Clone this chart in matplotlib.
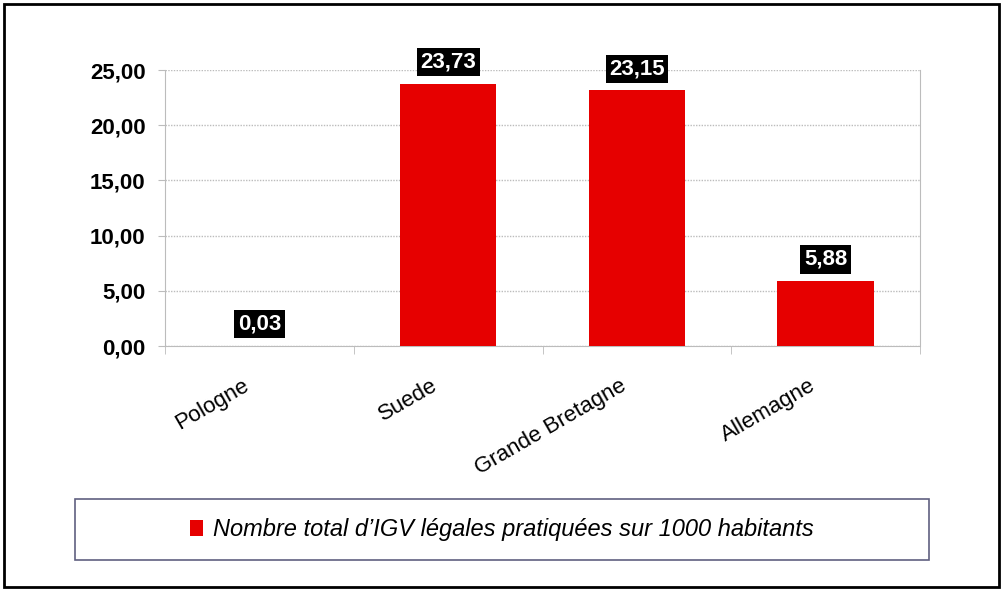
import matplotlib
matplotlib.use("Agg")
import matplotlib.pyplot as plt
import matplotlib.transforms as mtransforms
from matplotlib.patches import Rectangle, Patch
from matplotlib.ticker import FuncFormatter, FixedLocator

# donnees
pays = ["Pologne", "Suede", "Grande Bretagne", "Allemagne"]
valeurs = [0.03, 23.73, 23.15, 5.88]
legende = "Nombre total d\u2019IGV l\u00e9gales pratiqu\u00e9es sur 1000 habitants"
y_ticks = [0, 5, 10, 15, 20, 25]

rouge = "#e60000"
gris = "#bcbcbc"

plt.rcParams["font.family"] = ["Liberation Sans", "DejaVu Sans"]

def virgule(v, pos=None):
    return f"{v:.2f}".replace(".", ",")

fig = plt.figure(figsize=(10.02, 5.89), dpi=100)
ax = fig.add_axes([165 / 1002, 243 / 589, 755 / 1002, 276 / 589])

x = range(len(pays))
ax.bar(x, valeurs, width=0.51, color=rouge, edgecolor="none", zorder=3)

ax.set_xlim(-0.5, len(pays) - 0.5)
ax.set_ylim(0, 25)
ax.set_yticks(y_ticks)
ax.yaxis.set_major_formatter(FuncFormatter(virgule))
ax.grid(axis="y", color=gris, linewidth=1, linestyle=(0, (1, 1)), zorder=0)

for s in ["left", "right", "bottom"]:
    ax.spines[s].set_color(gris)
    ax.spines[s].set_linestyle((0, (1, 1)))
ax.spines["top"].set_visible(False)

ax.tick_params(axis="y", length=5, color=gris, pad=9, labelsize=16)
for lab in ax.get_yticklabels():
    lab.set_fontweight("bold")

# etiquettes des categories
ax.set_xticks(list(x))
ax.set_xticklabels(pays, rotation=30, ha="right", va="top", rotation_mode="anchor", fontsize=16)
ax.tick_params(axis="x", which="major", length=0, pad=21)
decal = mtransforms.ScaledTranslation(-0.17, 0, fig.dpi_scale_trans)
for lab in ax.get_xticklabels():
    lab.set_transform(lab.get_transform() + decal)
ax.xaxis.set_minor_locator(FixedLocator([i - 0.5 for i in range(len(pays) + 1)]))
ax.tick_params(axis="x", which="minor", length=6, color=gris)

# valeurs au-dessus des barres
for i, v in enumerate(valeurs):
    ax.annotate(virgule(v), (i, v), xytext=(0, 8), textcoords="offset points",
                ha="center", va="bottom", fontsize=16, fontweight="bold", color="white",
                bbox=dict(boxstyle="square,pad=0.16", facecolor="black", edgecolor="none"),
                zorder=4)

# cadre de la legende
fig.patches.append(Rectangle((75 / 1002, 29 / 589), 854 / 1002, 61 / 589,
                             transform=fig.transFigure, facecolor="none",
                             edgecolor="#606080", linewidth=1.2))
fig.legend(handles=[Patch(facecolor=rouge, edgecolor="none", label=legende)],
           loc="center", bbox_to_anchor=(502 / 1002, 59.5 / 589), frameon=False,
           prop=dict(size=17, style="italic"), handlelength=0.55, handleheight=0.65,
           handletextpad=0.4)

# cadre exterieur
fig.patches.append(Rectangle((4 / 1002, 2 / 589), 995 / 1002, 583 / 589,
                             transform=fig.transFigure, facecolor="none",
                             edgecolor="black", linewidth=2))

fig.savefig("out.png", dpi=100)
